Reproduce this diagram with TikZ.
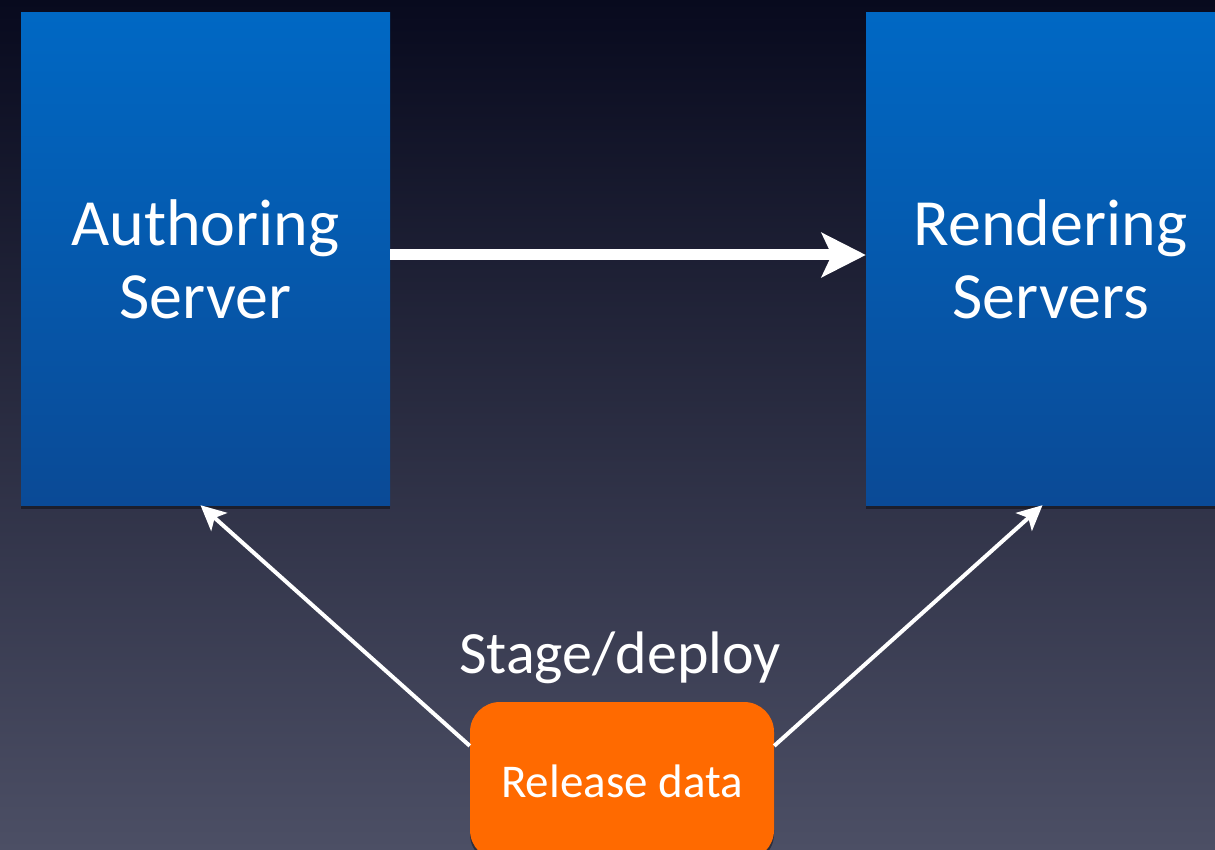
\documentclass[tikz,border=0pt]{standalone}
\usepackage{fontspec}
\setmainfont{Carlito}
\usetikzlibrary{arrows.meta,shadows}
\definecolor{bgtop}{RGB}{8,10,30}
\definecolor{bgmid}{RGB}{32,35,64}
\definecolor{bgbot}{RGB}{76,79,101}
\definecolor{boxtop}{RGB}{0,104,196}
\definecolor{boxbot}{RGB}{10,74,150}
\definecolor{relorange}{RGB}{255,106,0}
\begin{document}
\begin{tikzpicture}[x=1pt, y=-1pt,
    server/.style={rectangle, top color=boxtop, bottom color=boxbot, draw=none,
      minimum width=369pt, minimum height=492pt, text=white, align=center,
      font=\fontsize{66}{73}\selectfont,
      drop shadow={shadow xshift=0pt, shadow yshift=-4pt, opacity=0.4, fill=black}},
    release/.style={rectangle, rounded corners=30pt, fill=relorange, draw=none,
      minimum width=304pt, minimum height=158pt, text=white,
      font=\fontsize{47}{52}\selectfont,
      drop shadow={shadow xshift=0pt, shadow yshift=-4pt, opacity=0.4, fill=black}},
    push/.style={white, line width=11pt, -{Stealth[length=44pt, width=44pt, inset=10pt]}},
    deploy/.style={white, line width=4pt, -{Stealth[length=25pt, width=24pt, inset=6pt]}}]
  \useasboundingbox (0,0) rectangle (1215,850);
  \clip (0,0) rectangle (1215,850);
  \shade[top color=bgtop, middle color=bgmid, bottom color=bgbot] (0,0) rectangle (1215,850);

  \node[server] (auth) at (205.5,259) {Authoring\\Server};
  \node[server] (rend) at (1050.5,259) {Rendering\\Servers};
  \node[release] (rel) at (622,781) {Release data};
  \node[text=white, font=\fontsize{60}{66}\selectfont, anchor=base] (stage) at (620,673) {Stage/deploy};

  \draw[push] ([yshift=4pt]auth.east) -- ([yshift=4pt]rend.west);
  \draw[deploy] (rel.167) -- ([xshift=-5pt]auth.south);
  \draw[deploy] (rel.13) -- ([xshift=-8pt]rend.south);
\end{tikzpicture}
\end{document}
